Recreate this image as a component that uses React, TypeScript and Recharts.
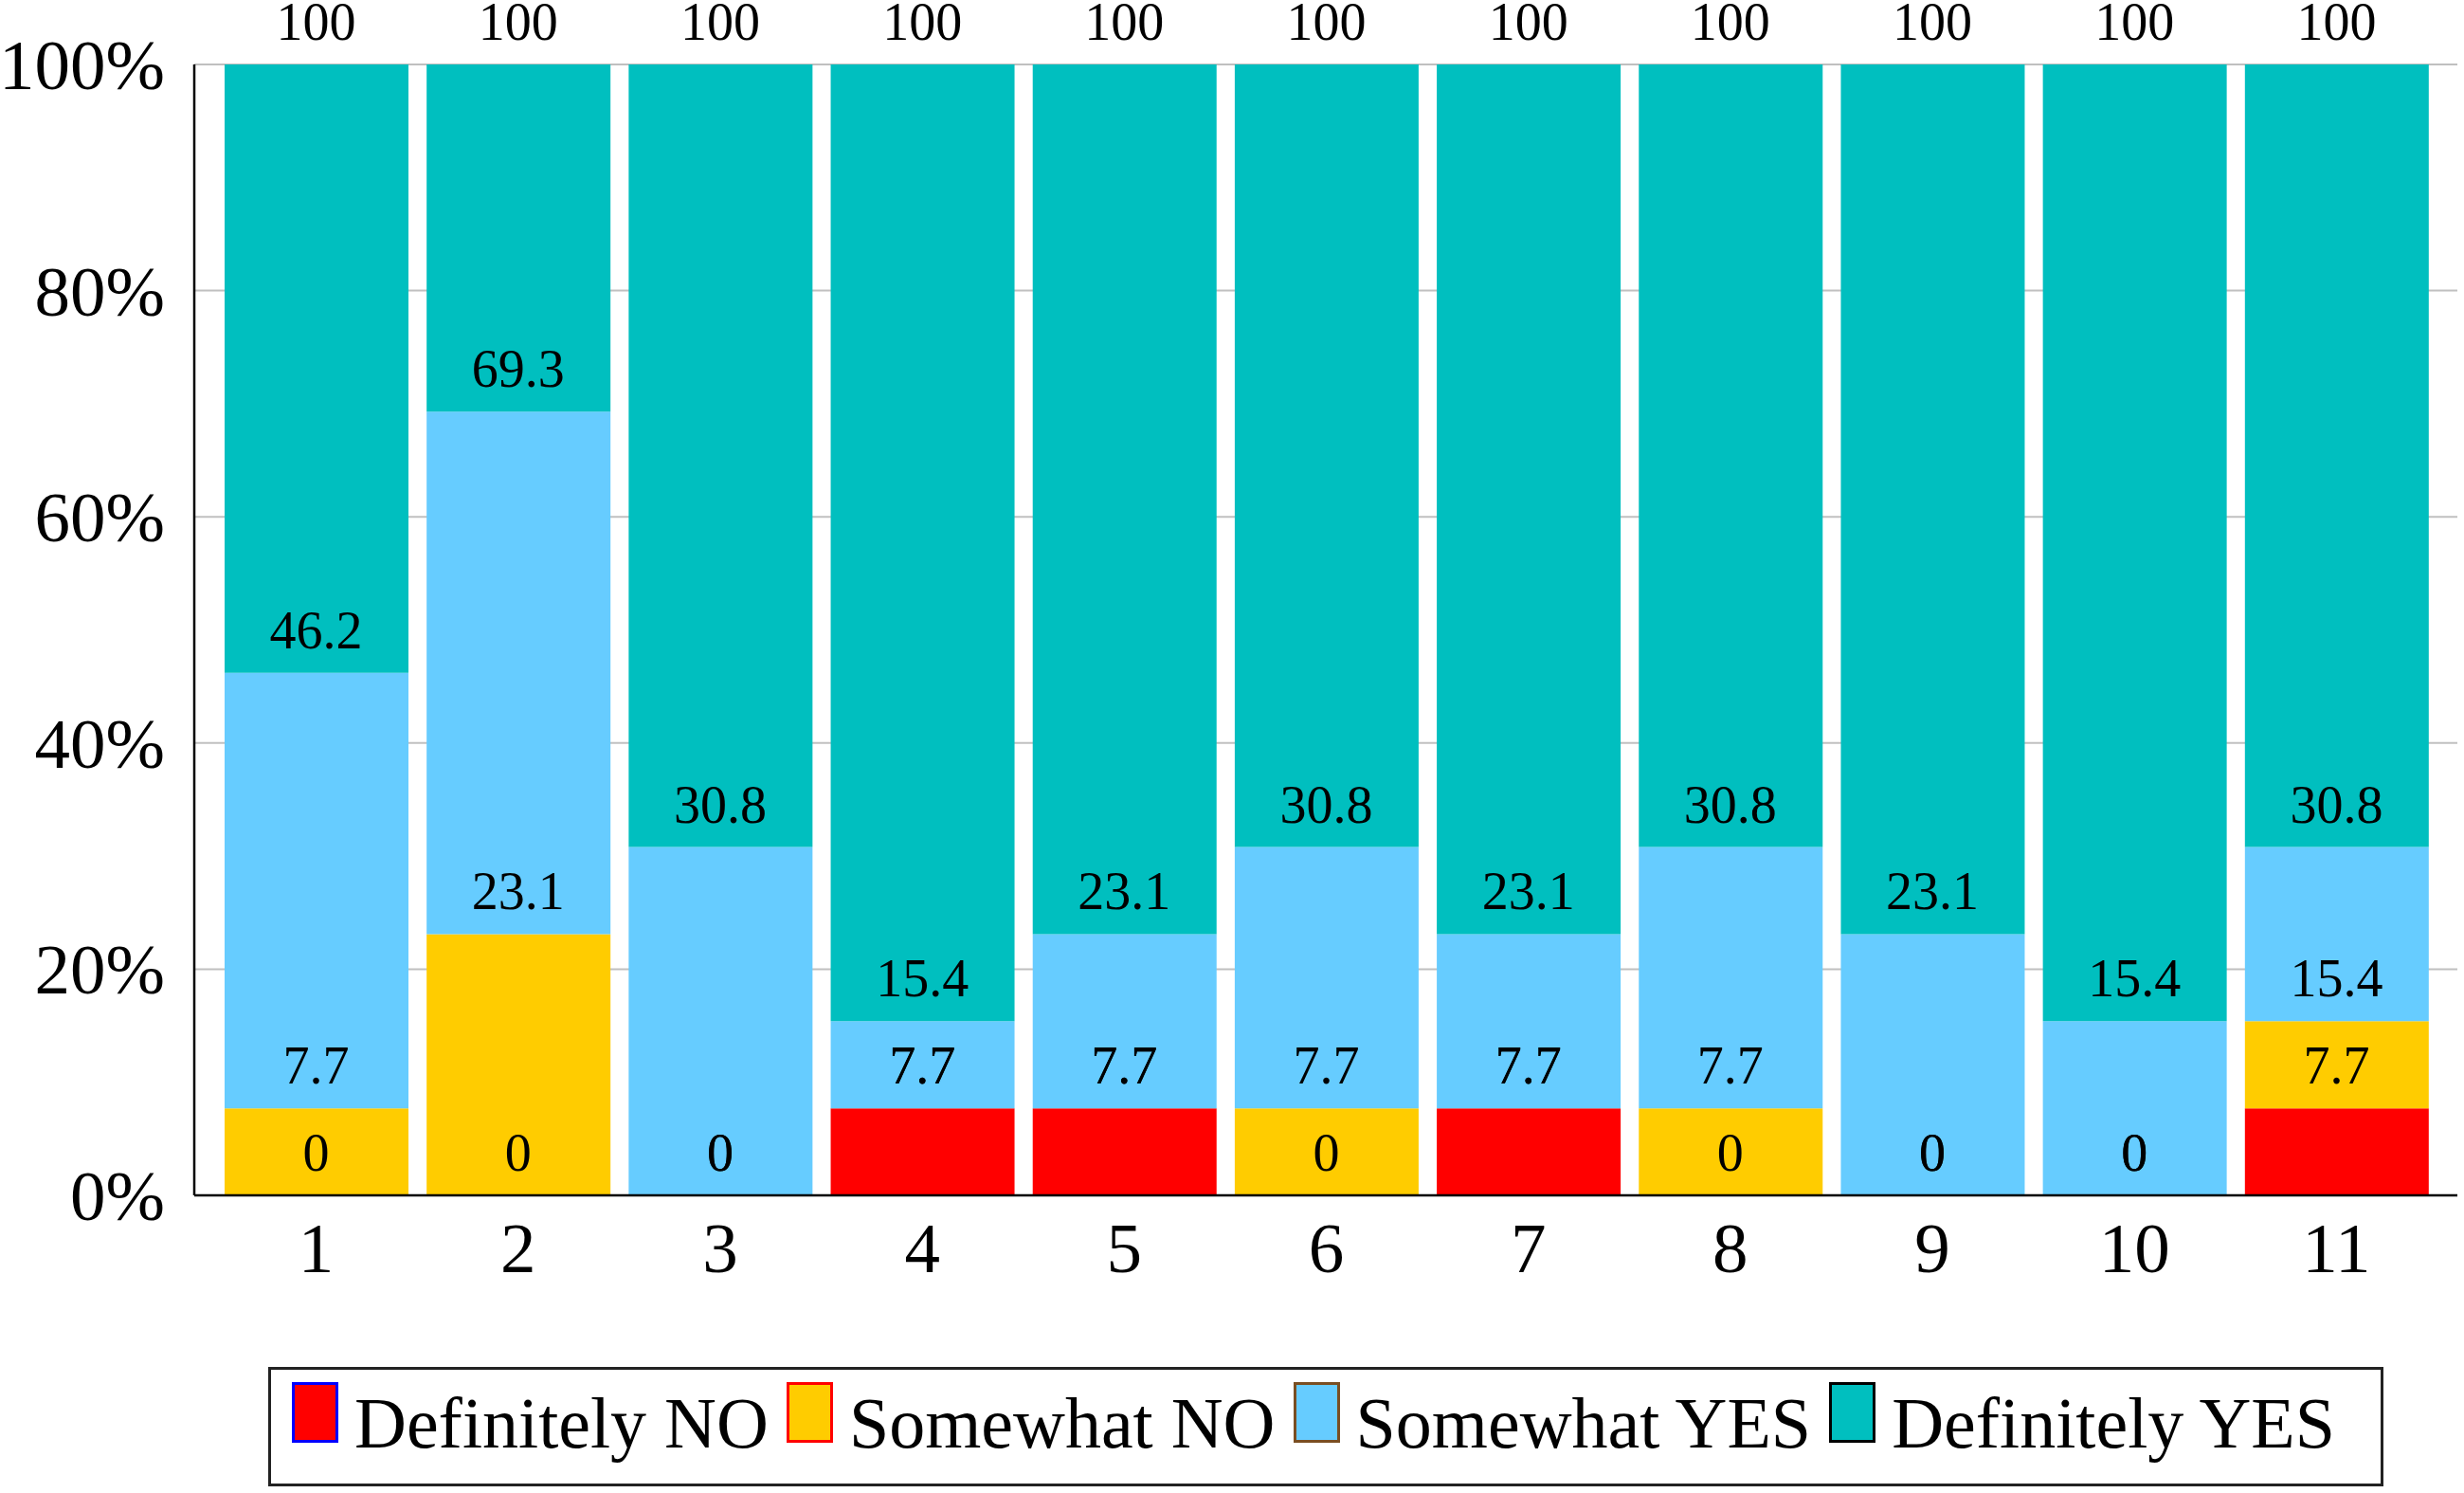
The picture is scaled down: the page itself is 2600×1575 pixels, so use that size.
import React from 'react';
import { ComposedChart, Bar, Line, XAxis, YAxis, CartesianGrid, LabelList, Legend } from 'recharts';

const categories = ['1', '2', '3', '4', '5', '6', '7', '8', '9', '10', '11'];
const definitelyNo = [0, 0, 0, 7.7, 7.7, 0, 7.7, 0, 0, 0, 7.7];
const somewhatNo = [7.7, 23.1, 0, 0, 0, 7.7, 0, 7.7, 0, 0, 7.7];
const somewhatYes = [38.5, 46.2, 30.8, 7.7, 15.4, 23.1, 15.4, 23.1, 23.1, 15.4, 15.4];
const definitelyYes = [53.8, 30.7, 69.2, 84.6, 76.9, 69.2, 76.9, 69.2, 76.9, 84.6, 69.2];

const seriesNames = ['Definitely NO', 'Somewhat NO', 'Somewhat YES', 'Definitely YES'];
const seriesKeys = ['defNo', 'somNo', 'somYes', 'defYes'];
const cumKeys = ['cumDefNo', 'cumSomNo', 'cumSomYes', 'cumDefYes'];
const seriesFill = ['#FF0000', '#FFCC00', '#66CCFF', '#00BFBF'];
const seriesBorder = ['#0000FF', '#FF0000', '#7A4E22', '#000000'];
const yTicks = [0, 20, 40, 60, 80, 100];

const seriesValues = [definitelyNo, somewhatNo, somewhatYes, definitelyYes];

const data = categories.map((name, i) => {
  const row: any = { name };
  let s = 0;
  seriesKeys.forEach((k, j) => {
    row[k] = seriesValues[j][i];
    s += seriesValues[j][i];
    row[cumKeys[j]] = Math.round(s * 10) / 10;
  });
  return row;
});

const FONT = '"Liberation Serif", "Times New Roman", serif';

const renderValueLabel = (props: any) => {
  const vb = props.viewBox || {};
  const x = Number(props.x ?? vb.x);
  const y = Number(props.y ?? vb.y);
  if (isNaN(x) || isNaN(y) || props.value == null) return null;
  return (
    <text x={x} y={y - 26} textAnchor="middle" fontSize={56} fontFamily={FONT} fill="#000">
      {String(props.value)}
    </text>
  );
};

const XTick = (props: any) => {
  const { x, y, payload } = props;
  return (
    <text x={x} y={y + 81} textAnchor="middle" fontSize={75} fontFamily={FONT} fill="#000">
      {payload.value}
    </text>
  );
};

const YTick = (props: any) => {
  const { x, y, payload } = props;
  return (
    <text x={x - 31} y={y + 26} textAnchor="end" fontSize={75} fontFamily={FONT} fill="#000">
      {payload.value + '%'}
    </text>
  );
};

const renderLegend = () => (
  <div
    style={{
      boxSizing: 'border-box',
      width: 2232,
      height: 126,
      border: '3px solid #222',
      display: 'flex',
      alignItems: 'flex-start',
      paddingLeft: 22,
      fontFamily: FONT,
      background: '#fff',
    }}
  >
    {seriesNames.map((n, i) => (
      <div key={n} style={{ display: 'flex', alignItems: 'flex-start', marginRight: 19 }}>
        <div
          style={{
            boxSizing: 'border-box',
            width: 49,
            height: 64,
            marginTop: 13,
            border: `3px solid ${seriesBorder[i]}`,
            background: seriesFill[i],
          }}
        />
        <span
          style={{
            marginLeft: 17,
            marginTop: 18,
            fontSize: 76,
            lineHeight: '76px',
            color: '#000',
            whiteSpace: 'nowrap',
          }}
        >
          {n}
        </span>
      </div>
    ))}
  </div>
);

const axisLineStyle = { stroke: '#000', strokeWidth: 2.5 };

export default function App() {
  return (
    <div
      style={{
        position: 'absolute',
        left: 0,
        top: 0,
        width: 2600,
        height: 1575,
        background: '#fff',
        fontFamily: FONT,
      }}
    >
      <ComposedChart
        width={2600}
        height={1575}
        data={data}
        margin={{ top: 68, right: 7, bottom: 234, left: 0 }}
        barSize={194}
      >
        <CartesianGrid vertical={false} stroke="#c0c0c0" strokeWidth={2} />
        <XAxis
          dataKey="name"
          height={80}
          tickSize={0}
          tickMargin={0}
          tickLine={false}
          axisLine={axisLineStyle}
          tick={<XTick />}
          interval={0}
          padding={{ left: 22, right: 21 }}
        />
        <XAxis
          xAxisId="top"
          dataKey="name"
          orientation="top"
          height={0}
          tick={false}
          tickLine={false}
          axisLine={axisLineStyle}
          padding={{ left: 22, right: 21 }}
        />
        <YAxis
          domain={[0, 100]}
          ticks={yTicks}
          width={205}
          tickSize={0}
          tickMargin={0}
          tickLine={false}
          axisLine={axisLineStyle}
          tick={<YTick />}
          interval={0}
          allowDataOverflow
        />
        <YAxis
          yAxisId="right"
          orientation="right"
          width={0}
          domain={[0, 100]}
          tick={false}
          tickLine={false}
          axisLine={axisLineStyle}
        />
        {seriesKeys.map((k, i) => (
          <Bar
            key={k}
            dataKey={k}
            name={seriesNames[i]}
            stackId="a"
            fill={seriesFill[i]}
            isAnimationActive={false}
          />
        ))}
        {cumKeys.map((k) => (
          <Line
            key={k}
            dataKey={k}
            stroke="none"
            dot={false}
            activeDot={false}
            legendType="none"
            isAnimationActive={false}
          >
            <LabelList dataKey={k} content={renderValueLabel} />
          </Line>
        ))}
        <Legend
          content={renderLegend}
          verticalAlign="middle"
          align="center"
          wrapperStyle={{ left: 283, top: 1442, width: 2232, height: 126 }}
        />
      </ComposedChart>
    </div>
  );
}
